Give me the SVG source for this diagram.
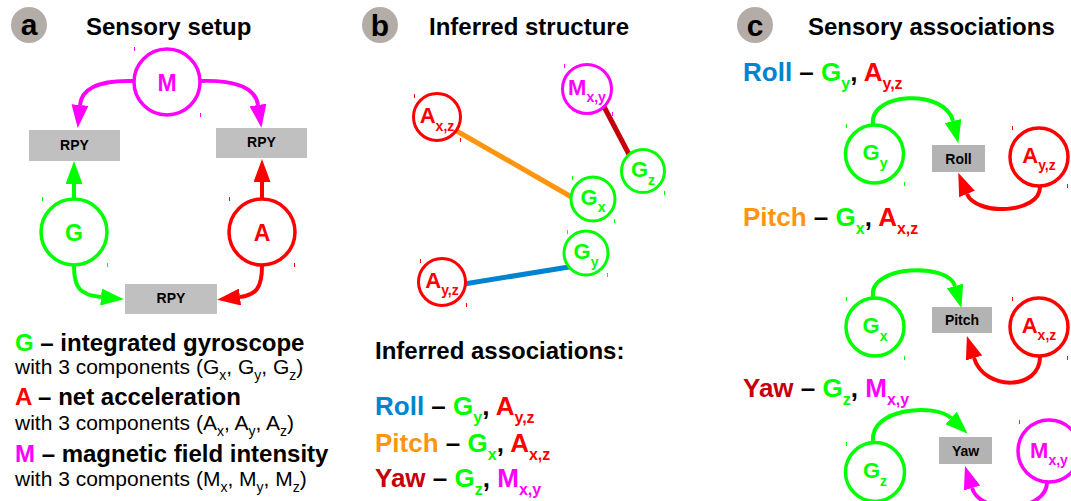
<svg xmlns="http://www.w3.org/2000/svg" width="1071" height="501" viewBox="0 0 1071 501">
<defs>
<style>
text{font-family:"Liberation Sans",Arial,Helvetica,sans-serif}
.b{font-weight:bold}
.ttl{font-size:24px;font-weight:bold;fill:#000}
.bdg{fill:#b4ada7}
.bdgt{font-size:30px;font-weight:bold;text-anchor:middle;fill:#000}
.boxa{fill:#c0c0c0}
.boxc{fill:#b3b3b3}
.lbl{font-size:14px;font-weight:bold;text-anchor:middle;fill:#000}
.nd{fill:#fff;stroke-width:3.5}
.ndb{fill:#fff;stroke-width:3}
.cn{fill:none;stroke-width:4}
.edge{fill:none;stroke-width:5}
.gs{stroke:#00ff00}.rs{stroke:#ff0000}.ms{stroke:#ff00ff}
.gf{fill:#00ff00}.rf{fill:#ff0000}.mf{fill:#ff00ff}
.blf{fill:#0084d1}.orf{fill:#ff950e}.drf{fill:#c5000b}
.ct{font-size:22px;font-weight:bold;text-anchor:middle}
.ca{font-size:23px;font-weight:bold;text-anchor:middle}
.sub{font-size:14px}
.row{font-size:26px;font-weight:bold;fill:#000}
.rsub{font-size:16px}
.leg{font-size:24px;font-weight:bold;fill:#000}
.legr{font-size:21px;fill:#000}
.hd{stroke-width:1}
</style>
<marker id="ag" markerUnits="userSpaceOnUse" markerWidth="23" markerHeight="17" refX="0" refY="8.5" orient="auto" viewBox="0 0 23 17"><path d="M0,0 L23,8.5 L0,17 z" fill="#00ff00"/></marker>
<marker id="ar" markerUnits="userSpaceOnUse" markerWidth="23" markerHeight="17" refX="0" refY="8.5" orient="auto" viewBox="0 0 23 17"><path d="M0,0 L23,8.5 L0,17 z" fill="#ff0000"/></marker>
<marker id="am" markerUnits="userSpaceOnUse" markerWidth="23" markerHeight="17" refX="0" refY="8.5" orient="auto" viewBox="0 0 23 17"><path d="M0,0 L23,8.5 L0,17 z" fill="#ff00ff"/></marker>
</defs>
<rect width="1071" height="501" fill="#fff"/>

<!-- headings -->
<g id="headings">
<circle class="bdg" cx="29" cy="25" r="18"/><text class="bdgt" x="29" y="35">a</text>
<text class="ttl" x="86" y="35">Sensory setup</text>
<circle class="bdg" cx="380" cy="25" r="18"/><text class="bdgt" x="380" y="36">b</text>
<text class="ttl" x="429" y="35">Inferred structure</text>
<circle class="bdg" cx="755" cy="25" r="18"/><text class="bdgt" x="755" y="36">c</text>
<text class="ttl" x="808" y="35">Sensory associations</text>
</g>

<!-- connectors -->
<g id="connectors">
<path class="cn ms" d="M134,81 C105,80 82,85 80,105" marker-end="url(#am)"/>
<path class="cn ms" d="M200,81 C229,80 255,85 258,105" marker-end="url(#am)"/>
<path class="cn gs" d="M74,199 L74,184" marker-end="url(#ag)"/>
<path class="cn rs" d="M262,199 L262,182" marker-end="url(#ar)"/>
<path class="cn gs" d="M74,266 C74,288 80,295 101,297" marker-end="url(#ag)"/>
<path class="cn rs" d="M262,266 C262,288 256,295 240,297" marker-end="url(#ar)"/>

<line class="edge" stroke="#ff950e" x1="448" y1="126" x2="575" y2="199"/>
<line class="edge" stroke="#c5000b" x1="600" y1="99" x2="633" y2="162"/>
<line class="edge" stroke="#0084d1" x1="458" y1="285" x2="575" y2="266"/>

<path class="cn gs" d="M873,125 C868,92 945,88 953,121" marker-end="url(#ag)"/>
<path class="cn rs" d="M1040,187 C1040,214 976,216 967,194" marker-end="url(#ar)"/>
<path class="cn gs" d="M873,297 C868,265 948,262 955,286" marker-end="url(#ag)"/>
<path class="cn rs" d="M1040,357 C1040,390 985,392 974,358" marker-end="url(#ar)"/>
<path class="cn gs" d="M873,441 C870,408 935,403 951,418" marker-end="url(#ag)"/>
<path class="cn ms" d="M1047,483 C1046,512 981,516 972,488" marker-end="url(#am)"/>
</g>

<!-- panel a nodes -->
<g id="a-M"><circle class="nd ms" cx="167" cy="82" r="33"/><text class="ca mf" x="167" y="91">M</text></g>
<g id="a-G"><circle class="nd gs" cx="74" cy="232" r="33"/><text class="ca gf" x="74" y="241">G</text></g>
<g id="a-A"><circle class="nd rs" cx="262" cy="232" r="33"/><text class="ca rf" x="262" y="241">A</text></g>
<g id="a-RPY-left"><rect class="boxa" x="29" y="130" width="91" height="31"/><text class="lbl" x="74.5" y="150">RPY</text></g>
<g id="a-RPY-right"><rect class="boxa" x="216" y="128" width="91" height="30"/><text class="lbl" x="261.5" y="147">RPY</text></g>
<g id="a-RPY-bottom"><rect class="boxa" x="125" y="284" width="92" height="30"/><text class="lbl" x="171" y="303">RPY</text></g>

<g id="a-legend">
<text class="leg" x="15" y="351"><tspan class="gf">G</tspan> – integrated gyroscope</text>
<text class="legr" x="15" y="374">with 3 components (G<tspan class="sub" dy="6">x</tspan><tspan dy="-6">, G</tspan><tspan class="sub" dy="6">y</tspan><tspan dy="-6">, G</tspan><tspan class="sub" dy="6">z</tspan><tspan dy="-6">)</tspan></text>
<text class="leg" x="15" y="405"><tspan class="rf">A</tspan> – net acceleration</text>
<text class="legr" x="15" y="430">with 3 components (A<tspan class="sub" dy="6">x</tspan><tspan dy="-6">, A</tspan><tspan class="sub" dy="6">y</tspan><tspan dy="-6">, A</tspan><tspan class="sub" dy="6">z</tspan><tspan dy="-6">)</tspan></text>
<text class="leg" x="15" y="462"><tspan class="mf">M</tspan> – magnetic field intensity</text>
<text class="legr" x="15" y="486">with 3 components (M<tspan class="sub" dy="6">x</tspan><tspan dy="-6">, M</tspan><tspan class="sub" dy="6">y</tspan><tspan dy="-6">, M</tspan><tspan class="sub" dy="6">z</tspan><tspan dy="-6">)</tspan></text>
</g>

<!-- panel b nodes -->
<g id="b-Axz"><circle class="ndb rs" cx="437" cy="117" r="23.5"/><text class="ct rf" x="437" y="123">A<tspan class="sub" dy="8">x,z</tspan></text></g>
<g id="b-Mxy"><circle class="ndb ms" cx="587" cy="89" r="24.5"/><text class="ct mf" x="587" y="95">M<tspan class="sub" dy="7">x,y</tspan></text></g>
<g id="b-Gz"><circle class="ndb gs" cx="643" cy="171" r="21.5"/><text class="ct gf" x="643" y="177">G<tspan class="sub" dy="8">z</tspan></text></g>
<g id="b-Gx"><circle class="ndb gs" cx="593" cy="199" r="22"/><text class="ct gf" x="593" y="205">G<tspan class="sub" dy="7">x</tspan></text></g>
<g id="b-Gy"><circle class="ndb gs" cx="586" cy="253" r="22"/><text class="ct gf" x="586" y="259">G<tspan class="sub" dy="8">y</tspan></text></g>
<g id="b-Ayz"><circle class="ndb rs" cx="442" cy="282" r="23.5"/><text class="ct rf" x="442" y="288">A<tspan class="sub" dy="7">y,z</tspan></text></g>

<g id="b-text">
<text class="ttl" x="375" y="359">Inferred associations:</text>
<text class="row" x="375" y="415"><tspan class="blf">Roll</tspan> – <tspan class="gf">G</tspan><tspan class="gf rsub" dy="8">y</tspan><tspan dy="-8">, </tspan><tspan class="rf">A</tspan><tspan class="rf rsub" dy="8">y,z</tspan></text>
<text class="row" x="375" y="452"><tspan class="orf">Pitch</tspan> – <tspan class="gf">G</tspan><tspan class="gf rsub" dy="8">x</tspan><tspan dy="-8">, </tspan><tspan class="rf">A</tspan><tspan class="rf rsub" dy="8">x,z</tspan></text>
<text class="row" x="375" y="487"><tspan class="drf">Yaw</tspan> – <tspan class="gf">G</tspan><tspan class="gf rsub" dy="8">z</tspan><tspan dy="-8">, </tspan><tspan class="mf">M</tspan><tspan class="mf rsub" dy="8">x,y</tspan></text>
</g>

<!-- panel c -->
<g id="c-text">
<text class="row" x="743" y="81"><tspan class="blf">Roll</tspan> – <tspan class="gf">G</tspan><tspan class="gf rsub" dy="8">y</tspan><tspan dy="-8">, </tspan><tspan class="rf">A</tspan><tspan class="rf rsub" dy="8">y,z</tspan></text>
<text class="row" x="743" y="226"><tspan class="orf">Pitch</tspan> – <tspan class="gf">G</tspan><tspan class="gf rsub" dy="8">x</tspan><tspan dy="-8">, </tspan><tspan class="rf">A</tspan><tspan class="rf rsub" dy="8">x,z</tspan></text>
<text class="row" x="743" y="397"><tspan class="drf">Yaw</tspan> – <tspan class="gf">G</tspan><tspan class="gf rsub" dy="8">z</tspan><tspan dy="-8">, </tspan><tspan class="mf">M</tspan><tspan class="mf rsub" dy="8">x,y</tspan></text>
</g>
<g id="c-Gy"><circle class="nd gs" cx="874.5" cy="154" r="29"/><text class="ct gf" x="875" y="160">G<tspan class="sub" dy="8">y</tspan></text></g>
<g id="c-Roll"><rect class="boxc" x="932" y="145" width="53" height="27"/><text class="lbl" x="958.5" y="164">Roll</text></g>
<g id="c-Ayz"><circle class="nd rs" cx="1039" cy="157" r="29"/><text class="ct rf" x="1039" y="163">A<tspan class="sub" dy="7">y,z</tspan></text></g>
<g id="c-Gx"><circle class="nd gs" cx="875" cy="327" r="29"/><text class="ct gf" x="875" y="333">G<tspan class="sub" dy="8">x</tspan></text></g>
<g id="c-Pitch"><rect class="boxc" x="932" y="307" width="60" height="26"/><text class="lbl" x="962" y="325">Pitch</text></g>
<g id="c-Axz"><circle class="nd rs" cx="1039" cy="327" r="29"/><text class="ct rf" x="1039" y="333">A<tspan class="sub" dy="7">x,z</tspan></text></g>
<g id="c-Gz"><circle class="nd gs" cx="875" cy="472" r="29.5"/><text class="ct gf" x="875" y="478">G<tspan class="sub" dy="8">z</tspan></text></g>
<g id="c-Yaw"><rect class="boxc" x="939" y="437" width="53" height="27"/><text class="lbl" x="965.5" y="456">Yaw</text></g>
<g id="c-Mxy"><circle class="nd ms" cx="1049" cy="451" r="31"/><text class="ct mf" x="1049" y="458">M<tspan class="sub" dy="7">x,y</tspan></text></g>

<!-- small handle marks -->
<g id="handles">
<rect class="mf" x="134" y="47" width="1" height="4"/><rect class="mf" x="200" y="113" width="1" height="4"/>
<rect class="gf" x="42" y="197" width="1" height="4"/><rect class="gf" x="107" y="263" width="1" height="4"/>
<rect class="rf" x="229" y="197" width="1" height="4"/><rect class="rf" x="294" y="263" width="1" height="4"/>
<rect class="rf" x="414" y="94" width="1" height="4"/><rect class="rf" x="460" y="138" width="1" height="4"/>
<rect class="mf" x="564" y="64" width="1" height="4"/><rect class="mf" x="612" y="112" width="1" height="4"/>
<rect class="gf" x="664" y="191" width="1" height="4"/>
<rect class="gf" x="572" y="176" width="1" height="4"/><rect class="gf" x="614" y="219" width="1" height="4"/>
<rect class="gf" x="567" y="230" width="1" height="4"/><rect class="gf" x="607" y="273" width="1" height="4"/>
<rect class="rf" x="420" y="259" width="1" height="4"/><rect class="rf" x="466" y="303" width="1" height="4"/>
<rect class="gf" x="846" y="124" width="1" height="4"/><rect class="gf" x="904" y="182" width="1" height="4"/>
<rect class="rf" x="1012" y="126" width="1" height="4"/><rect class="rf" x="1067" y="184" width="1" height="4"/>
<rect class="gf" x="846" y="297" width="1" height="4"/><rect class="gf" x="904" y="356" width="1" height="4"/>
<rect class="rf" x="1012" y="297" width="1" height="4"/><rect class="rf" x="1067" y="356" width="1" height="4"/>
<rect class="gf" x="846" y="442" width="1" height="4"/>
<rect class="mf" x="1019" y="420" width="1" height="4"/>
</g>
</svg>
